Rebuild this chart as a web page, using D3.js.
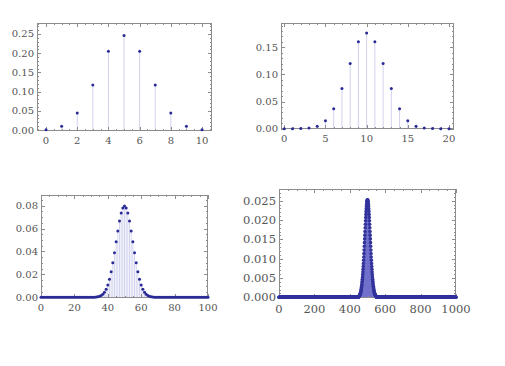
<!DOCTYPE html>
<html><head><meta charset="utf-8">
<script src="https://cdn.jsdelivr.net/npm/d3@7"></script>
<style>body{margin:0;background:#fff}svg{display:block}</style>
</head><body>
<script>
// Binomial probabilities (p = 0.5)
const pmf10 = [0.00098,0.00977,0.04395,0.11719,0.20508,0.24609,0.20508,0.11719,0.04395,0.00977,0.00098];
const pmf20 = [0.000001,0.000019,0.00018,0.00109,0.00462,0.01479,0.03696,0.07393,0.12013,0.16018,0.1762,
  0.16018,0.12013,0.07393,0.03696,0.01479,0.00462,0.00109,0.00018,0.000019,0.000001];
const pmf100 = [
  0,0,0,0,0,0,0,0,0,0, 0,0,0,0,0,0,0,0,0,0, 0,0,0,0,0,0,0,0,0,0,
  0.00002,0.00005,0.00011,0.00023,0.00046,0.00086,0.00157,0.00271,0.00448,0.00711,
  0.01084,0.01587,0.02229,0.03007,0.03895,0.04847,0.05796,0.06659,0.07353,0.07803,
  0.07959,
  0.07803,0.07353,0.06659,0.05796,0.04847,0.03895,0.03007,0.02229,0.01587,0.01084,
  0.00711,0.00448,0.00271,0.00157,0.00086,0.00046,0.00023,0.00011,0.00005,0.00002,
  0,0,0,0,0,0,0,0,0,0, 0,0,0,0,0,0,0,0,0,0, 0,0,0,0,0,0,0,0,0,0
];
const pmf1000 = [
  0,0,0,0,0,0,0,0,0,0,0,0,0,0,0,0,0,0,0,0,0,0,0,0,0,0,0,0,0,0,0,0,0,0,0,0,0,0,0,0,0,0,0,0,0,0,0,0,0,0,
  0,0,0,0,0,0,0,0,0,0,0,0,0,0,0,0,0,0,0,0,0,0,0,0,0,0,0,0,0,0,0,0,0,0,0,0,0,0,0,0,0,0,0,0,0,0,0,0,0,0,
  0,0,0,0,0,0,0,0,0,0,0,0,0,0,0,0,0,0,0,0,0,0,0,0,0,0,0,0,0,0,0,0,0,0,0,0,0,0,0,0,0,0,0,0,0,0,0,0,0,0,
  0,0,0,0,0,0,0,0,0,0,0,0,0,0,0,0,0,0,0,0,0,0,0,0,0,0,0,0,0,0,0,0,0,0,0,0,0,0,0,0,0,0,0,0,0,0,0,0,0,0,
  0,0,0,0,0,0,0,0,0,0,0,0,0,0,0,0,0,0,0,0,0,0,0,0,0,0,0,0,0,0,0,0,0,0,0,0,0,0,0,0,0,0,0,0,0,0,0,0,0,0,
  0,0,0,0,0,0,0,0,0,0,0,0,0,0,0,0,0,0,0,0,0,0,0,0,0,0,0,0,0,0,0,0,0,0,0,0,0,0,0,0,0,0,0,0,0,0,0,0,0,0,
  0,0,0,0,0,0,0,0,0,0,0,0,0,0,0,0,0,0,0,0,0,0,0,0,0,0,0,0,0,0,0,0,0,0,0,0,0,0,0,0,0,0,0,0,0,0,0,0,0,0,
  0,0,0,0,0,0,0,0,0,0,0,0,0,0,0,0,0,0,0,0,0,0,0,0,0,0,0,0,0,0,0,0,0,0,0,0,0,0,0,0,0,0,0,0,0,0,0,0,0,0,
  0,0,0,0,0,0,0,0,0,0,0,0,0,0,0,0,0,0,0,0,0,0,0,0,0,0,0,0,0,0,0,0,0,0,0,0,0,0,0,0,0,0,0,0,0,0,0,0,0,0,
  0.00017,0.00021,0.00025,0.0003,0.00037,0.00044,0.00052,0.00063,0.00074,0.00088,
  0.00103,0.0012,0.00141,0.00163,0.00189,0.00218,0.0025,0.00286,0.00325,0.00369,
  0.00417,0.00469,0.00526,0.00587,0.00653,0.00723,0.00797,0.00876,0.00958,0.01045,
  0.01134,0.01226,0.0132,0.01415,0.01512,0.01609,0.01705,0.018,0.01892,0.01981,
  0.02066,0.02146,0.0222,0.02287,0.02348,0.024,0.02444,0.02478,0.02503,0.02518,
  0.02523,
  0.02518,0.02503,0.02478,0.02444,0.024,0.02348,0.02287,0.0222,0.02146,0.02066,
  0.01981,0.01892,0.018,0.01705,0.01609,0.01512,0.01415,0.0132,0.01226,0.01134,
  0.01045,0.00958,0.00876,0.00797,0.00723,0.00653,0.00587,0.00526,0.00469,0.00417,
  0.00369,0.00325,0.00286,0.0025,0.00218,0.00189,0.00163,0.00141,0.0012,0.00103,
  0.00088,0.00074,0.00063,0.00052,0.00044,0.00037,0.0003,0.00025,0.00021,0.00017,
  0,0,0,0,0,0,0,0,0,0,0,0,0,0,0,0,0,0,0,0,0,0,0,0,0,0,0,0,0,0,0,0,0,0,0,0,0,0,0,0,0,0,0,0,0,0,0,0,0,0,
  0,0,0,0,0,0,0,0,0,0,0,0,0,0,0,0,0,0,0,0,0,0,0,0,0,0,0,0,0,0,0,0,0,0,0,0,0,0,0,0,0,0,0,0,0,0,0,0,0,0,
  0,0,0,0,0,0,0,0,0,0,0,0,0,0,0,0,0,0,0,0,0,0,0,0,0,0,0,0,0,0,0,0,0,0,0,0,0,0,0,0,0,0,0,0,0,0,0,0,0,0,
  0,0,0,0,0,0,0,0,0,0,0,0,0,0,0,0,0,0,0,0,0,0,0,0,0,0,0,0,0,0,0,0,0,0,0,0,0,0,0,0,0,0,0,0,0,0,0,0,0,0,
  0,0,0,0,0,0,0,0,0,0,0,0,0,0,0,0,0,0,0,0,0,0,0,0,0,0,0,0,0,0,0,0,0,0,0,0,0,0,0,0,0,0,0,0,0,0,0,0,0,0,
  0,0,0,0,0,0,0,0,0,0,0,0,0,0,0,0,0,0,0,0,0,0,0,0,0,0,0,0,0,0,0,0,0,0,0,0,0,0,0,0,0,0,0,0,0,0,0,0,0,0,
  0,0,0,0,0,0,0,0,0,0,0,0,0,0,0,0,0,0,0,0,0,0,0,0,0,0,0,0,0,0,0,0,0,0,0,0,0,0,0,0,0,0,0,0,0,0,0,0,0,0,
  0,0,0,0,0,0,0,0,0,0,0,0,0,0,0,0,0,0,0,0,0,0,0,0,0,0,0,0,0,0,0,0,0,0,0,0,0,0,0,0,0,0,0,0,0,0,0,0,0,0,
  0,0,0,0,0,0,0,0,0,0,0,0,0,0,0,0,0,0,0,0,0,0,0,0,0,0,0,0,0,0,0,0,0,0,0,0,0,0,0,0,0,0,0,0,0,0,0,0,0,0
];

// tick labels
const xTicks10 = [0,2,4,6,8,10];
const yTicks10 = [0,0.05,0.10,0.15,0.20,0.25];
const xTicks20 = [0,5,10,15,20];
const yTicks20 = [0,0.05,0.10,0.15];
const xTicks100 = [0,20,40,60,80,100];
const yTicks100 = [0,0.02,0.04,0.06,0.08];
const xTicks1000 = [0,200,400,600,800,1000];
const yTicks1000 = [0,0.005,0.010,0.015,0.020,0.025];

const W = 505, H = 366;
const svg = d3.select("body").append("svg").attr("width", W).attr("height", H);

const panels = [
  {data: pmf10, frame:[37,23,212,131], xd:[-0.58,10.64], yd:[-0.0026,0.2786],
   xt:xTicks10, yt:yTicks10, xm:0.5, ym:0.01, yf:".2f", fs:10, r:1.5, stem:"#d2d2ee", dot:"#2a2a96"},
  {data: pmf20, frame:[281,23,454,129], xd:[-0.40,20.61], yd:[-0.00055,0.1948],
   xt:xTicks20, yt:yTicks20, xm:1, ym:0.01, yf:".2f", fs:10, r:1.5, stem:"#d2d2ee", dot:"#2a2a96"},
  {data: pmf100, frame:[41,195,208,298], xd:[0,100], yd:[-0.0006,0.0893],
   xt:xTicks100, yt:yTicks100, xm:5, ym:0.005, yf:".2f", fs:10, r:1.5, stem:"#d4d4f0", dot:"#2a2a96"},
  {data: pmf1000, frame:[279,189,456,298], xd:[0,1000], yd:[-0.00018,0.02803],
   xt:xTicks1000, yt:yTicks1000, xm:50, ym:0.001, yf:".3f", fs:11.5, r:1.8, stem:"#7272cc", dot:"#33339c"}
];

panels.forEach(p => {
  const [x0,y0,x1,y1] = p.frame;
  const x = d3.scaleLinear().domain(p.xd).range([x0,x1]);
  const y = d3.scaleLinear().domain(p.yd).range([y1,y0]);
  const g = svg.append("g");
  const pts = p.data.map((v,i)=>({k:i,v}));

  // stems
  g.append("g").selectAll("line").data(pts).join("line")
    .attr("x1", d=>x(d.k)).attr("x2", d=>x(d.k))
    .attr("y1", y(0)).attr("y2", d=>y(d.v))
    .attr("stroke", p.stem).attr("stroke-width", 1);

  // frame
  g.append("rect").attr("x",x0+0.5).attr("y",y0+0.5).attr("width",x1-x0-1).attr("height",y1-y0-1)
    .attr("fill","none").attr("stroke","#8c8c8c").attr("stroke-width",1);

  // ticks (inward, all sides)
  const tickG = g.append("g").attr("stroke","#8c8c8c").attr("stroke-width",1);
  const xMin = d3.range(Math.ceil(p.xd[0]/p.xm)*p.xm, p.xd[1]+1e-9, p.xm);
  const yMin = d3.range(Math.ceil(p.yd[0]/p.ym)*p.ym, p.yd[1]+1e-9, p.ym);
  const isMajor = (v, arr) => arr.some(t=>Math.abs(t-v)<1e-9);
  xMin.forEach(v=>{
    const L = isMajor(v,p.xt)?4:2, px = Math.round(x(v))+0.5;
    tickG.append("line").attr("x1",px).attr("x2",px).attr("y1",y1).attr("y2",y1-L);
    tickG.append("line").attr("x1",px).attr("x2",px).attr("y1",y0).attr("y2",y0+L);
  });
  yMin.forEach(v=>{
    const L = isMajor(v,p.yt)?4:2, py = Math.round(y(v))+0.5;
    tickG.append("line").attr("y1",py).attr("y2",py).attr("x1",x0).attr("x2",x0+L);
    tickG.append("line").attr("y1",py).attr("y2",py).attr("x1",x1).attr("x2",x1-L);
  });

  // dots
  g.append("g").selectAll("circle").data(pts).join("circle")
    .attr("cx", d=>x(d.k)).attr("cy", d=>y(d.v)).attr("r", p.r).attr("fill", p.dot);

  // labels
  const fmt = d3.format(p.yf);
  g.append("g").selectAll("text").data(p.xt).join("text")
    .attr("x", d=>x(d)).attr("y", y1+ p.fs + 3)
    .attr("text-anchor","middle").attr("font-family","DejaVu Serif").attr("font-size",p.fs)
    .attr("fill","#555").text(d=>d);
  g.append("g").selectAll("text").data(p.yt).join("text")
    .attr("x", x0-3).attr("y", d=>y(d)).attr("dy","0.35em")
    .attr("text-anchor","end").attr("font-family","DejaVu Serif").attr("font-size",p.fs)
    .attr("fill","#555").text(d=>fmt(d));
});
</script>
</body></html>
